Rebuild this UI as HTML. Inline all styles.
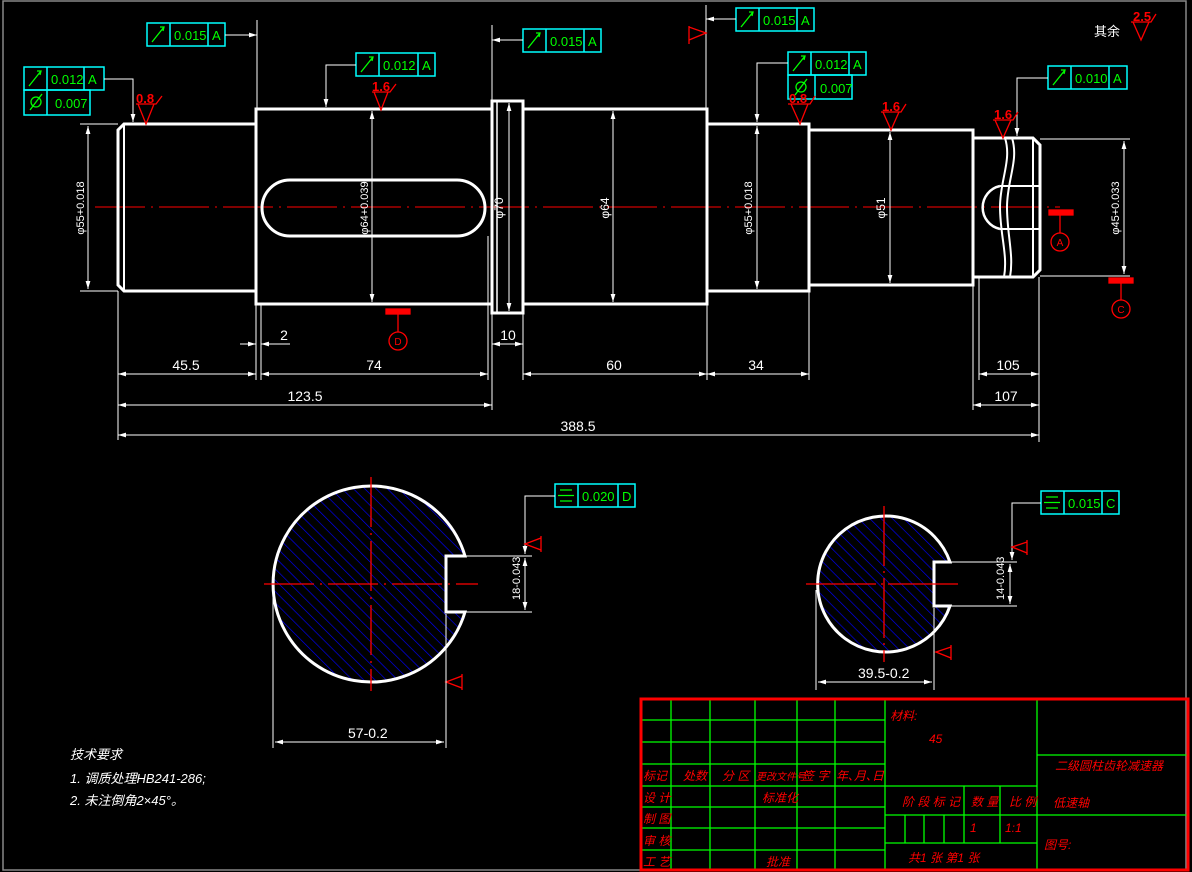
<!DOCTYPE html>
<html><head><meta charset="utf-8"><style>
html,body{margin:0;padding:0;background:#000;}
svg{display:block}
text{font-family:"Liberation Sans Narrow","Liberation Sans","Noto Sans CJK SC",sans-serif;}
.w{stroke:#fff;fill:none}
.r{stroke:#f00;fill:none}
.c{stroke:#0ff;fill:none;stroke-width:1.5}
.g{stroke:#0f0;fill:none}
.gt{fill:#0f0;font-size:13px}
.wt{fill:#fff;font-size:14px}
.rt{fill:#f00;font-size:13px;font-weight:bold}
</style></head><body>
<svg width="1192" height="872" viewBox="0 0 1192 872" xmlns="http://www.w3.org/2000/svg">
<defs>
<pattern id="h" width="8" height="8" patternUnits="userSpaceOnUse" patternTransform="rotate(-45)">
<line x1="0" y1="0" x2="0" y2="8" stroke="#00f" stroke-width="1.3"/>
</pattern>
<marker id="a" viewBox="0 0 10 6" refX="10" refY="3" markerWidth="8" markerHeight="5" orient="auto-start-reverse"><path d="M0,0L10,3L0,6z" fill="#fff"/></marker>
</defs>
<rect x="3" y="1" width="1183" height="869" fill="none" stroke="#888" stroke-width="1.5"/>

<line x1="95" y1="207" x2="1060" y2="207" class="r" stroke-dasharray="50,6,2,6"/>

<g class="w" stroke-width="3">
<path d="M124,124 H256 V291 H124 L118,285 V130 Z"/>
<line x1="124" y1="124" x2="124" y2="291" stroke-width="2"/>
<rect x="256" y="109" width="236" height="195"/>
<rect x="262" y="180" width="223" height="56" rx="28"/>
<rect x="492" y="101" width="31" height="212"/>
<line x1="497" y1="101" x2="497" y2="313" stroke-width="1.5"/>
<rect x="523" y="109" width="184" height="195"/>
<rect x="707" y="124" width="102" height="167"/>
<rect x="809" y="130" width="164" height="155"/>
<path d="M973,138 H1033 L1040,145 V270 L1033,277 H973"/>
<path d="M1033,138 V277" stroke-width="2"/>
<path d="M1005,138 C1012,160 1000,180 1000,207 C1000,235 1008,255 1004,277" stroke-width="2"/>
<path d="M1012,138 C1019,160 1007,180 1007,207 C1007,235 1014,255 1010,277" stroke-width="2"/>
<line x1="1000" y1="186" x2="1040" y2="186" stroke-width="2"/>
<line x1="1000" y1="229" x2="1040" y2="229" stroke-width="2"/>
<path d="M1000,186 A22,22 0 0 0 1000,229" stroke-width="2.5"/>
</g>

<g class="w" stroke-width="1">
<line x1="80" y1="124" x2="118" y2="124"/><line x1="80" y1="291" x2="118" y2="291"/>
<line x1="88" y1="126" x2="88" y2="289" marker-start="url(#a)" marker-end="url(#a)"/>
<line x1="372" y1="111" x2="372" y2="302" marker-start="url(#a)" marker-end="url(#a)"/>
<line x1="509" y1="103" x2="509" y2="311" marker-start="url(#a)" marker-end="url(#a)"/>
<line x1="613" y1="111" x2="613" y2="302" marker-start="url(#a)" marker-end="url(#a)"/>
<line x1="757" y1="126" x2="757" y2="289" marker-start="url(#a)" marker-end="url(#a)"/>
<line x1="890" y1="132" x2="890" y2="283" marker-start="url(#a)" marker-end="url(#a)"/>
<line x1="1040" y1="139" x2="1130" y2="139"/><line x1="1040" y1="276" x2="1130" y2="276"/>
<line x1="1124" y1="141" x2="1124" y2="274" marker-start="url(#a)" marker-end="url(#a)"/>
<line x1="118" y1="291" x2="118" y2="440"/>
<line x1="256" y1="304" x2="256" y2="380"/><line x1="261" y1="304" x2="261" y2="380"/>
<line x1="492" y1="313" x2="492" y2="410"/><line x1="523" y1="313" x2="523" y2="380"/>
<line x1="488" y1="236" x2="488" y2="380"/>
<line x1="707" y1="291" x2="707" y2="380"/><line x1="809" y1="291" x2="809" y2="380"/>
<line x1="973" y1="285" x2="973" y2="410"/><line x1="979" y1="277" x2="979" y2="380"/>
<line x1="1039" y1="277" x2="1039" y2="442"/>
<line x1="240" y1="344" x2="256" y2="344" marker-end="url(#a)"/><line x1="261" y1="344" x2="290" y2="344" marker-start="url(#a)"/>
<line x1="492" y1="344" x2="523" y2="344" marker-start="url(#a)" marker-end="url(#a)"/>
<line x1="118" y1="374" x2="256" y2="374" marker-start="url(#a)" marker-end="url(#a)"/>
<line x1="261" y1="374" x2="488" y2="374" marker-start="url(#a)" marker-end="url(#a)"/>
<line x1="523" y1="374" x2="707" y2="374" marker-start="url(#a)" marker-end="url(#a)"/>
<line x1="707" y1="374" x2="809" y2="374" marker-start="url(#a)" marker-end="url(#a)"/>
<line x1="979" y1="374" x2="1039" y2="374" marker-start="url(#a)" marker-end="url(#a)"/>
<line x1="118" y1="405" x2="492" y2="405" marker-start="url(#a)" marker-end="url(#a)"/>
<line x1="973" y1="405" x2="1039" y2="405" marker-start="url(#a)" marker-end="url(#a)"/>
<line x1="118" y1="435" x2="1039" y2="435" marker-start="url(#a)" marker-end="url(#a)"/>
</g>
<g class="wt" text-anchor="middle">
<text x="186" y="370">45.5</text><text x="374" y="370">74</text><text x="614" y="370">60</text>
<text x="756" y="370">34</text><text x="1008" y="370">105</text><text x="284" y="340">2</text>
<text x="508" y="340">10</text><text x="305" y="401">123.5</text><text x="1006" y="401">107</text>
<text x="578" y="431">388.5</text>
<text transform="translate(84,208) rotate(-90)" font-size="11">φ55+0.018</text>
<text transform="translate(368,208) rotate(-90)" font-size="11">φ64+0.039</text>
<text transform="translate(503,208) rotate(-90)" font-size="12">φ70</text>
<text transform="translate(609,208) rotate(-90)" font-size="12">φ64</text>
<text transform="translate(752,208) rotate(-90)" font-size="11">φ55+0.018</text>
<text transform="translate(885,208) rotate(-90)" font-size="12">φ51</text>
<text transform="translate(1119,208) rotate(-90)" font-size="11">φ45+0.033</text>
<text x="1107" y="36" font-size="13">其余</text>
</g>

<g>
<g class="c"><rect x="147" y="23" width="78" height="23"/><line x1="170" y1="23" x2="170" y2="46"/><line x1="208" y1="23" x2="208" y2="46"/>
<rect x="24" y="67" width="80" height="23"/><line x1="47" y1="67" x2="47" y2="90"/><line x1="84" y1="67" x2="84" y2="90"/>
<rect x="24" y="90" width="66" height="25"/><line x1="47" y1="90" x2="47" y2="115"/>
<rect x="356" y="53" width="79" height="23"/><line x1="379" y1="53" x2="379" y2="76"/><line x1="418" y1="53" x2="418" y2="76"/>
<rect x="523" y="29" width="78" height="23"/><line x1="546" y1="29" x2="546" y2="52"/><line x1="584" y1="29" x2="584" y2="52"/>
<rect x="736" y="8" width="78" height="23"/><line x1="759" y1="8" x2="759" y2="31"/><line x1="797" y1="8" x2="797" y2="31"/>
<rect x="788" y="52" width="78" height="23"/><line x1="811" y1="52" x2="811" y2="75"/><line x1="849" y1="52" x2="849" y2="75"/>
<rect x="788" y="75" width="64" height="24"/><line x1="815" y1="75" x2="815" y2="99"/>
<rect x="1048" y="66" width="79" height="23"/><line x1="1071" y1="66" x2="1071" y2="89"/><line x1="1109" y1="66" x2="1109" y2="89"/>
<rect x="555" y="484" width="80" height="23"/><line x1="578" y1="484" x2="578" y2="507"/><line x1="618" y1="484" x2="618" y2="507"/>
<rect x="1041" y="491" width="78" height="23"/><line x1="1064" y1="491" x2="1064" y2="514"/><line x1="1102" y1="491" x2="1102" y2="514"/>
</g>
<g class="g" stroke-width="1.3">
<path d="M152,42 L164,27 M160,27 L164,27 L163,31"/><path d="M29,86 L41,71 M37,71 L41,71 L40,75"/>
<path d="M361,72 L373,57 M369,57 L373,57 L372,61"/><path d="M528,48 L540,33 M536,33 L540,33 L539,37"/>
<path d="M741,27 L753,12 M749,12 L753,12 L752,16"/><path d="M793,71 L805,56 M801,56 L805,56 L804,60"/>
<path d="M1053,85 L1065,70 M1061,70 L1065,70 L1064,74"/>
<circle cx="36" cy="102" r="5"/><path d="M30,110 L42,94"/><circle cx="801" cy="87" r="5"/><path d="M795,95 L807,79"/>
<path d="M560,490 H572 M558,495.5 H574 M560,501 H572"/><path d="M1046,497 H1058 M1044,502.5 H1060 M1046,508 H1058"/>
</g>
<g class="gt">
<text x="174" y="40">0.015</text><text x="212" y="40">A</text>
<text x="51" y="84">0.012</text><text x="88" y="84">A</text><text x="55" y="108">0.007</text>
<text x="383" y="70">0.012</text><text x="422" y="70">A</text>
<text x="550" y="46">0.015</text><text x="588" y="46">A</text>
<text x="763" y="25">0.015</text><text x="801" y="25">A</text>
<text x="815" y="69">0.012</text><text x="853" y="69">A</text><text x="820" y="93">0.007</text>
<text x="1075" y="83">0.010</text><text x="1113" y="83">A</text>
<text x="582" y="501">0.020</text><text x="622" y="501">D</text>
<text x="1068" y="508">0.015</text><text x="1106" y="508">C</text>
</g>
<g class="w" stroke-width="1">
<path d="M225,35 H257" marker-end="url(#a)"/><line x1="257" y1="20" x2="257" y2="109"/>
<path d="M104,79 H133 V122" marker-end="url(#a)"/>
<path d="M356,65 H326 V107" marker-end="url(#a)"/>
<path d="M523,40 H492" marker-end="url(#a)"/><line x1="492" y1="25" x2="492" y2="101"/>
<path d="M736,19 H706" marker-end="url(#a)"/><line x1="706" y1="5" x2="706" y2="109"/>
<path d="M788,63 H757 V122" marker-end="url(#a)"/>
<path d="M1048,78 H1017 V136" marker-end="url(#a)"/>
<path d="M555,496 H525 V554" marker-end="url(#a)"/>
<path d="M1041,503 H1012 V560" marker-end="url(#a)"/>
</g>
</g>

<g class="r" stroke-width="1.3">
<path d="M138,104 L146,124 L154,104 M136,104 H156 L162,96"/>
<path d="M374,92 L381,110 L388,92 M372,92 H390 L396,84"/>
<path d="M791,104 L800,124 L808,104 M788,104 H810 L815,96"/>
<path d="M883,112 L891,130 L899,112 M881,112 H901 L906,104"/>
<path d="M995,120 L1003,138 L1011,120 M993,120 H1013 L1018,112"/>
<path d="M1133,22 L1141,40 L1149,22 M1131,22 H1151 L1156,14"/>
<path d="M706,33 L689,27 L689,40 Z M689,26 V44"/>
<path d="M525,544 L541,538 L541,550 Z M541,536 V552"/>
<path d="M446,682 L462,676 L462,688 Z M462,674 V690"/>
<path d="M1012,547 L1027,542 L1027,553 Z M1027,540 V555"/>
<path d="M936,652 L951,647 L951,658 Z M951,645 V660"/>
</g>
<g class="rt">
<text x="136" y="103">0.8</text><text x="372" y="91">1.6</text>
<text x="789" y="103">0.8</text><text x="882" y="111">1.6</text>
<text x="994" y="119">1.6</text><text x="1133" y="21">2.5</text>
</g>

<g class="r" stroke-width="1.3">
<rect x="386" y="309" width="24" height="5" fill="#f00"/><line x1="398" y1="314" x2="398" y2="332"/><circle cx="398" cy="341" r="9"/>
<rect x="1049" y="210" width="24" height="5" fill="#f00"/><line x1="1060" y1="215" x2="1060" y2="233"/><circle cx="1060" cy="242" r="9"/>
<rect x="1109" y="278" width="24" height="5" fill="#f00"/><line x1="1121" y1="283" x2="1121" y2="300"/><circle cx="1121" cy="309" r="9"/>
</g>
<g fill="#f00" font-size="10" text-anchor="middle"><text x="398" y="345">D</text><text x="1060" y="246">A</text><text x="1121" y="313">C</text></g>

<path d="M446,556 L465,556 A98,98 0 1 0 465,612 L446,612 Z" fill="url(#h)" stroke="#fff" stroke-width="3"/>
<path d="M934,562 L950,562 A68,68 0 1 0 950,606 L934,606 Z" fill="url(#h)" stroke="#fff" stroke-width="3"/>
<g class="r" stroke-width="1.3">
<line x1="264" y1="584" x2="478" y2="584" stroke-dasharray="50,6,2,6"/><line x1="371" y1="477" x2="371" y2="691" stroke-dasharray="50,6,2,6"/>
<line x1="806" y1="584" x2="962" y2="584" stroke-dasharray="70,5,2,5"/><line x1="884" y1="506" x2="884" y2="662" stroke-dasharray="60,5,2,5"/>
</g>
<g class="w" stroke-width="1">
<line x1="465" y1="556" x2="532" y2="556"/><line x1="465" y1="612" x2="532" y2="612"/>
<line x1="525" y1="558" x2="525" y2="610" marker-start="url(#a)" marker-end="url(#a)"/>
<line x1="273" y1="590" x2="273" y2="748"/><line x1="446" y1="614" x2="446" y2="748"/>
<line x1="275" y1="742" x2="444" y2="742" marker-start="url(#a)" marker-end="url(#a)"/>
<line x1="950" y1="562" x2="1017" y2="562"/><line x1="950" y1="606" x2="1017" y2="606"/>
<line x1="1010" y1="564" x2="1010" y2="604" marker-start="url(#a)" marker-end="url(#a)"/>
<line x1="816" y1="590" x2="816" y2="690"/><line x1="934" y1="608" x2="934" y2="690"/>
<line x1="818" y1="682" x2="932" y2="682" marker-start="url(#a)" marker-end="url(#a)"/>
</g>
<g class="wt">
<text x="348" y="738">57-0.2</text><text x="858" y="678">39.5-0.2</text>
<text transform="translate(520,600) rotate(-90)" font-size="11">18-0.043</text>
<text transform="translate(1004,600) rotate(-90)" font-size="11">14-0.043</text>
</g>

<g fill="#fff" font-size="13" font-style="italic">
<text x="70" y="759">技术要求</text>
<text x="70" y="783">1. 调质处理HB241-286;</text>
<text x="70" y="805">2. 未注倒角2×45°。</text>
</g>

<g class="g" stroke-width="1.3">
<line x1="641" y1="720" x2="885" y2="720"/><line x1="641" y1="742" x2="885" y2="742"/><line x1="641" y1="764" x2="885" y2="764"/>
<line x1="641" y1="786" x2="1037" y2="786"/><line x1="641" y1="807" x2="885" y2="807"/><line x1="641" y1="828" x2="885" y2="828"/>
<line x1="641" y1="850" x2="885" y2="850"/>
<line x1="671" y1="699" x2="671" y2="870"/><line x1="710" y1="699" x2="710" y2="870"/><line x1="755" y1="699" x2="755" y2="870"/>
<line x1="797" y1="699" x2="797" y2="870"/><line x1="835" y1="699" x2="835" y2="870"/><line x1="885" y1="699" x2="885" y2="870"/>
<line x1="1037" y1="699" x2="1037" y2="870"/>
<line x1="1037" y1="755" x2="1188" y2="755"/><line x1="885" y1="815" x2="1188" y2="815"/><line x1="885" y1="843" x2="1037" y2="843"/>
<line x1="964" y1="786" x2="964" y2="843"/><line x1="1000" y1="786" x2="1000" y2="843"/>
<line x1="905" y1="815" x2="905" y2="843"/><line x1="924" y1="815" x2="924" y2="843"/><line x1="944" y1="815" x2="944" y2="843"/>
</g>
<rect x="641" y="699" width="547" height="171" fill="none" stroke="#f00" stroke-width="3"/>
<g fill="#f00" font-size="12" font-style="italic">
<text x="643" y="780">标记</text><text x="683" y="780">处数</text><text x="722" y="780">分 区</text><text x="756" y="780" font-size="10">更改文件号</text>
<text x="802" y="780">签 字</text><text x="836" y="780">年､月､日</text>
<text x="643" y="802">设 计</text><text x="762" y="802">标准化</text>
<text x="643" y="823">制 图</text><text x="643" y="845">审 核</text><text x="643" y="866">工 艺</text><text x="766" y="866">批准</text>
<text x="890" y="720">材料:</text><text x="929" y="743">45</text>
<text x="902" y="806">阶 段 标 记</text><text x="971" y="806">数 量</text><text x="1009" y="806">比 例</text>
<text x="970" y="832">1</text><text x="1005" y="832">1:1</text>
<text x="908" y="862">共1  张    第1  张</text>
<text x="1055" y="770">二级圆柱齿轮减速器</text><text x="1053" y="807">低速轴</text><text x="1044" y="849">图号:</text>
</g>
</svg>
</body></html>
